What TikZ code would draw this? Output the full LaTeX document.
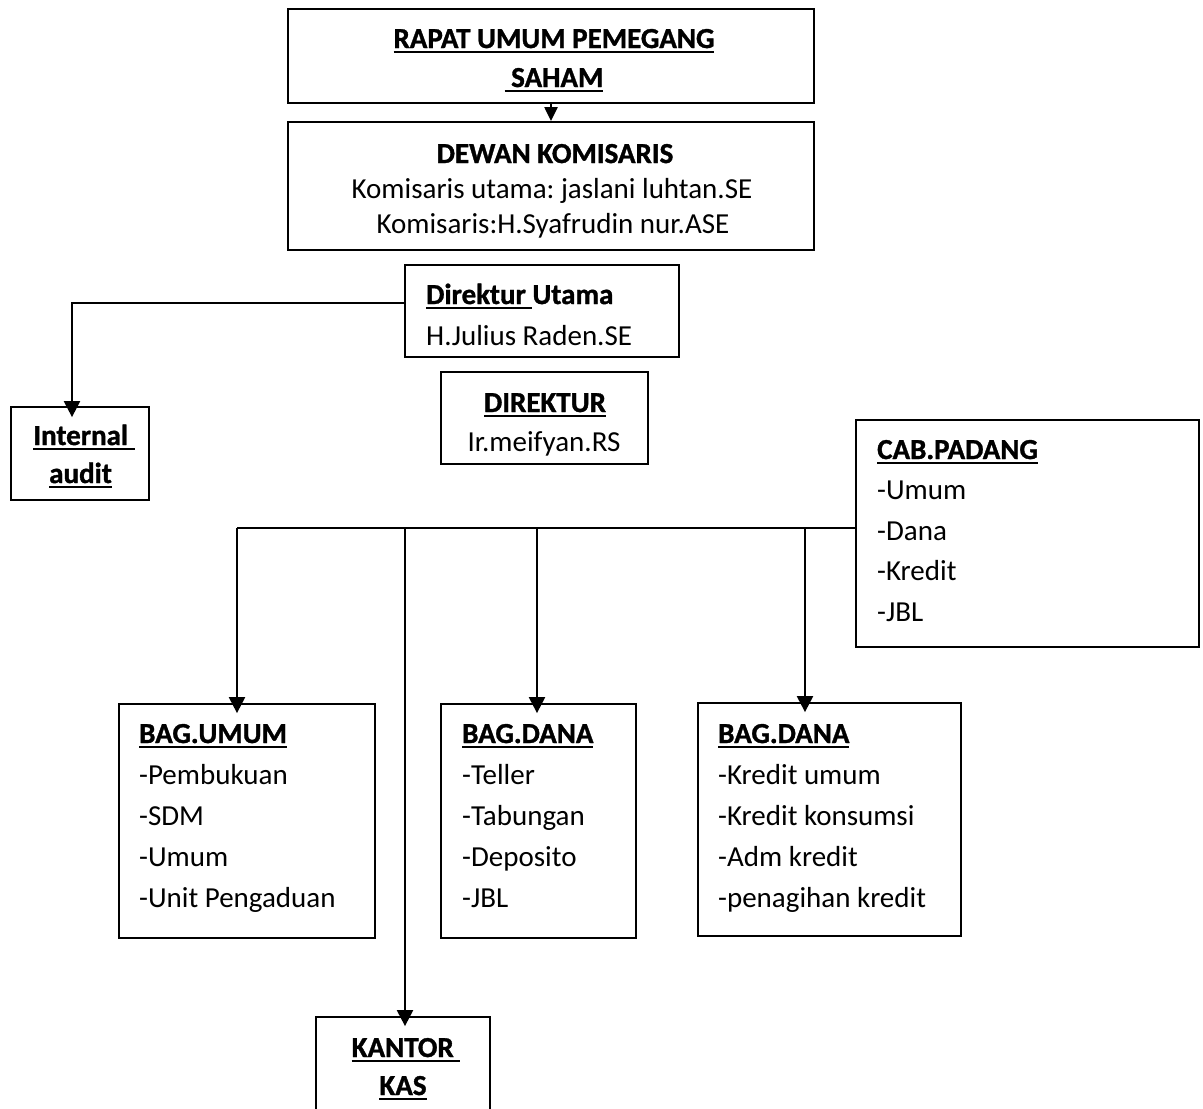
\documentclass[tikz,border=0pt]{standalone}
\usepackage{fontspec}
\setmainfont{Carlito}[BoldFeatures={FakeBold=1.2}]
\usetikzlibrary{arrows.meta}
\frenchspacing
\newsavebox\ulbox
\newcommand\ult[1]{\sbox\ulbox{#1}\rlap{\rule[-5pt]{\wd\ulbox}{2.2pt}}\usebox\ulbox}
\begin{document}
\begin{tikzpicture}[x=1pt,y=-1pt,
  box/.style={draw, line width=1.8pt, inner sep=0pt},
  txt/.style={inner sep=0pt, font=\fontsize{29}{35}\selectfont},
  btxt/.style={txt, font=\fontsize{29}{35}\selectfont\bfseries},
  conn/.style={line width=2.2pt},
  arr/.style={conn, -{Triangle[width=16pt,length=16pt]}}]
\fill[white] (0,0) rectangle (1203,1109);
\useasboundingbox (0,0) rectangle (1203,1109);

% boxes
\node[box, minimum width=526pt, minimum height=94pt]  (rups)  at (551,56)    {};
\node[box, minimum width=526pt, minimum height=128pt] (dewan) at (551,186)   {};
\node[box, minimum width=274pt, minimum height=92pt]  (du)    at (542,311)   {};
\node[box, minimum width=207pt, minimum height=92pt]  (dir)   at (544.5,418) {};
\node[box, minimum width=138pt, minimum height=93pt]  (ia)    at (80,453.5)  {};
\node[box, minimum width=343pt, minimum height=227pt] (cab)   at (1027.5,533.5) {};
\node[box, minimum width=256pt, minimum height=234pt] (bu)    at (247,821)   {};
\node[box, minimum width=195pt, minimum height=234pt] (bd)    at (538.5,821) {};
\node[box, minimum width=263pt, minimum height=233pt] (bk)    at (829.5,819.5) {};
\node[box, minimum width=174pt, minimum height=106pt] (kk)    at (403,1070)  {};

% texts
\node[btxt, anchor=base] (rups1) at (554,48) {\ult{RAPAT UMUM PEMEGANG}};
\node[btxt, anchor=base] (rups2) at (554,87) {\ult{\ SAHAM}};
\node[btxt, anchor=base] (dew1) at (555,163) {DEWAN KOMISARIS};
\node[txt, anchor=base] (dew2) at (552,198) {Komisaris utama: jaslani luhtan.SE};
\node[txt, anchor=base] (dew3) at (553,233) {Komisaris:H.Syafrudin nur.ASE};
\node[btxt, anchor=base west] (du1) at (426,304) {\ult{Direktur }Utama};
\node[txt, anchor=base west] (du2) at (426,345) {H.Julius Raden.SE};
\node[btxt, anchor=base] (dir1) at (545,412) {\ult{DIREKTUR}};
\node[txt, anchor=base] (dir2) at (544,451) {Ir.meifyan.RS};
\node[btxt, anchor=base] (ia1) at (84,445) {\ult{Internal }};
\node[btxt, anchor=base] (ia2) at (80.5,483) {\ult{audit}};
\node[btxt, anchor=base west] (cab1) at (877,459) {\ult{CAB.PADANG}};
\node[txt, anchor=base west] (cab2) at (877,499) {-Umum};
\node[txt, anchor=base west] (cab3) at (877,540) {-Dana};
\node[txt, anchor=base west] (cab4) at (877,580) {-Kredit};
\node[txt, anchor=base west] (cab5) at (877,621) {-JBL};
\node[btxt, anchor=base west] (bu1) at (139,743) {\ult{BAG.UMUM}};
\node[txt, anchor=base west] (bu2) at (139,784) {-Pembukuan};
\node[txt, anchor=base west] (bu3) at (139,825) {-SDM};
\node[txt, anchor=base west] (bu4) at (139,866) {-Umum};
\node[txt, anchor=base west] (bu5) at (139,907) {-Unit Pengaduan};
\node[btxt, anchor=base west] (bd1) at (462,743) {\ult{BAG.DANA}};
\node[txt, anchor=base west] (bd2) at (462,784) {-Teller};
\node[txt, anchor=base west] (bd3) at (462,825) {-Tabungan};
\node[txt, anchor=base west] (bd4) at (462,866) {-Deposito};
\node[txt, anchor=base west] (bd5) at (462,907) {-JBL};
\node[btxt, anchor=base west] (bk1) at (718,743) {\ult{BAG.DANA}};
\node[txt, anchor=base west] (bk2) at (718,784) {-Kredit umum};
\node[txt, anchor=base west] (bk3) at (718,825) {-Kredit konsumsi};
\node[txt, anchor=base west] (bk4) at (718,866) {-Adm kredit};
\node[txt, anchor=base west] (bk5) at (718,907) {-penagihan kredit};
\node[btxt, anchor=base] (kk1) at (406,1057) {\ult{KANTOR }};
\node[btxt, anchor=base] (kk2) at (403,1095) {\ult{KAS}};

% connectors
\draw[arr, -{Triangle[width=13pt,length=14pt]}] (rups.south) -- (dewan.north);

\coordinate (ac) at (72,303);
\draw[arr, shorten >=-11pt] (du.west |- ac) -- (ac) -- (ac |- ia.north);

\coordinate (j1) at (237,528);
\coordinate (j2) at (405,528);
\coordinate (j3) at (537,528);
\coordinate (j4) at (805,528);
\draw[conn] (cab.west |- j1) -- (j1);
\draw[arr, shorten >=-10pt] (j1) -- (j1 |- bu.north);
\draw[arr, shorten >=-10pt] (j2) -- (j2 |- kk.north);
\draw[arr, shorten >=-10pt] (j3) -- (j3 |- bd.north);
\draw[arr, shorten >=-10pt] (j4) -- (j4 |- bk.north);
\end{tikzpicture}
\end{document}
